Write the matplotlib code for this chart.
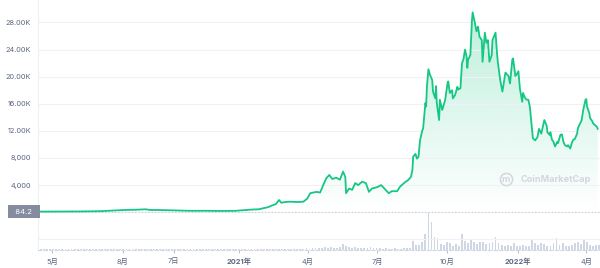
import numpy as np
import pandas as pd
import matplotlib
matplotlib.use("Agg")
import matplotlib.pyplot as plt
import matplotlib.dates as mdates

plt.rcParams["font.family"] = ["Inter", "Noto Sans CJK SC", "DejaVu Sans"]

# price series
price_dates = [
    "2020-04-12", "2020-05-11", "2020-06-06", "2020-07-03", "2020-07-22", "2020-08-04",
    "2020-08-18", "2020-08-31", "2020-09-06", "2020-09-19", "2020-10-08", "2020-10-29",
    "2020-11-17", "2020-12-07", "2020-12-27", "2021-01-02", "2021-01-13", "2021-01-19",
    "2021-01-26", "2021-02-02", "2021-02-08", "2021-02-13", "2021-02-18", "2021-02-22",
    "2021-02-25", "2021-03-02", "2021-03-08", "2021-03-18", "2021-03-26", "2021-03-31",
    "2021-04-04", "2021-04-08", "2021-04-12", "2021-04-17", "2021-04-21", "2021-04-25",
    "2021-04-29", "2021-05-03", "2021-05-08", "2021-05-13", "2021-05-17", "2021-05-20",
    "2021-05-21", "2021-05-25", "2021-05-29", "2021-06-02", "2021-06-06", "2021-06-11",
    "2021-06-16", "2021-06-20", "2021-06-24", "2021-07-01", "2021-07-06", "2021-07-11",
    "2021-07-16", "2021-07-20", "2021-07-27", "2021-07-31", "2021-08-06", "2021-08-10",
    "2021-08-14", "2021-08-16", "2021-08-17", "2021-08-20", "2021-08-22", "2021-08-24",
    "2021-08-26", "2021-08-29", "2021-08-30", "2021-09-02", "2021-09-03", "2021-09-04",
    "2021-09-06", "2021-09-08", "2021-09-11", "2021-09-12", "2021-09-15", "2021-09-16",
    "2021-09-17", "2021-09-20", "2021-09-21", "2021-09-24", "2021-09-25", "2021-09-28",
    "2021-10-01", "2021-10-02", "2021-10-04", "2021-10-07", "2021-10-08", "2021-10-11",
    "2021-10-14", "2021-10-15", "2021-10-18", "2021-10-20", "2021-10-22", "2021-10-24",
    "2021-10-26", "2021-10-27", "2021-10-28", "2021-10-31", "2021-11-02", "2021-11-03",
    "2021-11-06", "2021-11-08", "2021-11-10", "2021-11-12", "2021-11-15", "2021-11-16",
    "2021-11-19", "2021-11-21", "2021-11-23", "2021-11-25", "2021-11-28", "2021-11-29",
    "2021-12-03", "2021-12-05", "2021-12-06", "2021-12-09", "2021-12-12", "2021-12-16",
    "2021-12-20", "2021-12-22", "2021-12-25", "2021-12-26", "2021-12-29", "2021-12-31",
    "2022-01-02", "2022-01-04", "2022-01-07", "2022-01-08", "2022-01-11", "2022-01-13",
    "2022-01-15", "2022-01-17", "2022-01-20", "2022-01-21", "2022-01-24", "2022-01-27",
    "2022-01-29", "2022-02-01", "2022-02-04", "2022-02-05", "2022-02-08", "2022-02-09",
    "2022-02-12", "2022-02-13", "2022-02-15", "2022-02-17", "2022-02-19", "2022-02-22",
    "2022-02-23", "2022-02-26", "2022-02-28", "2022-03-02", "2022-03-04", "2022-03-07",
    "2022-03-08", "2022-03-11", "2022-03-13", "2022-03-15", "2022-03-17", "2022-03-20",
    "2022-03-21", "2022-03-24", "2022-03-26", "2022-03-28", "2022-03-31", "2022-04-01",
    "2022-04-02", "2022-04-05", "2022-04-06", "2022-04-09", "2022-04-10", "2022-04-13",
    "2022-04-15", "2022-04-16",
]
prices = [
    84.2, 90, 110, 150, 250, 330,
    360, 430, 330, 320, 260, 200,
    210, 180, 200, 260, 350, 400,
    420, 600, 750, 1000, 1200, 1800,
    1400, 1500, 1550, 1500, 1550, 2000,
    2800, 2900, 3000, 2900, 4000, 5000,
    5500, 4900, 5100, 4800, 6000, 5200,
    2800, 3500, 3300, 4300, 4000, 4500,
    4300, 3000, 3500, 3700, 4000, 3400,
    2800, 3100, 3100, 3800, 4400, 4700,
    5200, 6200, 8200, 8600, 7900, 8200,
    10600, 12100, 12300, 16100, 15600, 18500,
    21100, 20300, 19500, 17800, 16800, 18600,
    16100, 13600, 16600, 15100, 15400, 16600,
    19000, 19300, 17600, 18000, 16800, 17300,
    18500, 18100, 18300, 22000, 22600, 24000,
    23000, 21300, 22500, 23200, 28200, 29500,
    27900, 26700, 27400, 25900, 25400, 22200,
    26500, 25000, 25400, 22200, 23200, 25400,
    26500, 23400, 22200, 19600, 17800, 20600,
    20100, 19000, 22500, 22700, 20100, 20400,
    20800, 18200, 16300, 17600, 16800, 16600,
    16600, 15600, 12100, 10900, 10600, 11100,
    12300, 11600, 13100, 13600, 12800, 11800,
    11400, 11800, 10700, 10400, 9700, 10400,
    10200, 11400, 11500, 10400, 9900, 9700,
    9900, 9400, 10200, 10700, 10800, 11600,
    12400, 13100, 13600, 15100, 16600, 16700,
    15600, 14600, 13900, 13400, 13100, 12800,
    12600, 12300,
]

# trading volume, one bar every 4 days from the first price date (relative units)
volume_start = "2020-04-12"
volume = [
    1, 1, 1.2, 1, 0.8, 1, 1, 1.2, 1, 1,
    1, 1.2, 1, 1, 1, 1.2, 1.4, 1.2, 1, 1,
    1.2, 1, 1, 1, 1.2, 1, 1, 1, 1, 1.2,
    1, 1, 1, 1.2, 1, 1, 1, 1, 1.2, 1,
    1, 1, 1, 1, 1.2, 1, 1, 1, 1, 1,
    1, 1.2, 1, 1, 1, 1, 1, 1.2, 1, 1,
    1, 1.2, 1, 1.2, 1.4, 1.2, 1, 1.2, 1.5, 1.2,
    1.5, 1.2, 1.4, 1.5, 1.2, 1.5, 1.4, 1.2, 1.5, 1.5,
    1.2, 1.4, 1.5, 1.2, 1.4, 1.5, 1.2, 1.5, 2, 1.5,
    2, 2.5, 2, 2.5, 3, 2.5, 3, 2, 2.5, 3,
    6.5, 4, 3, 2.5, 3, 2, 2.5, 2, 2.5, 3,
    2, 2.5, 2, 1.5, 2, 1.5, 1.5, 2, 1.5, 1.5,
    2, 2, 2, 9, 5, 5, 8, 16, 38, 28,
    13, 12, 6, 5, 8, 7, 4, 6, 4, 16,
    9, 7, 11, 8, 6, 8, 8, 6, 7, 8,
    13, 7, 5, 4, 5, 4, 7, 4, 4, 5,
    4, 4, 10, 7, 5, 7, 6, 4, 4, 7,
    12, 5, 7, 4, 4, 5, 7, 8, 6, 10,
    8, 5, 4, 5, 5,
]

ytick_values = [4000, 8000, 12000, 16000, 20000, 24000, 28000]
ytick_labels = ["4,000", "8,000", "12.00K", "16.00K", "20.00K", "24.00K", "28.00K"]
xtick_dates = ["2020-05-01", "2020-08-01", "2020-10-07", "2021-01-01", "2021-04-01",
               "2021-07-01", "2021-10-01", "2022-01-01", "2022-04-01"]
xtick_labels = ["5月", "8月", "7日", "2021年", "4月", "7月", "10月", "2022年", "4月"]
bold_labels = ["2021年", "2022年"]

green = "#16c784"
grey_text = "#5b6680"
mark_grey = "#d3d7de"

fig = plt.figure(figsize=(6.0, 2.68), dpi=100)
ax = fig.add_axes([38 / 600, 18 / 268, 562 / 600, 250 / 268])
ax2 = ax.twinx()
ax.set_zorder(ax2.get_zorder() + 1)
ax.patch.set_visible(False)

x = mdates.date2num(pd.to_datetime(price_dates))
y = np.array(prices)

# gradient fill under the line
x0 = mdates.date2num(pd.Timestamp("2020-04-12"))
x1 = mdates.date2num(pd.Timestamp("2022-04-19"))
grad = np.zeros((256, 1, 4))
grad[..., :3] = matplotlib.colors.to_rgb(green)
grad[..., 3] = np.linspace(0.30, 0.0, 256)[:, None]
poly = ax.fill_between(x, y, 0, color="none", lw=0)
im = ax.imshow(grad, extent=[x0, x1, 0, 31300], aspect="auto", origin="upper", zorder=1)
im.set_clip_path(poly.get_paths()[0], transform=ax.transData)

ax.plot(x, y, color=green, lw=1.3, zorder=3)
ax.axhline(prices[0], color="#c3c9d3", lw=0.8, ls=(0, (1, 2)), zorder=2)

ax.set_xlim(x0, x1)
ax.set_ylim(-5580, 31320)

ax.set_yticks([-4000, 0] + ytick_values)
ax.set_yticklabels(["", ""] + ytick_labels)
ax.grid(axis="y", color="#eff2f5", lw=0.8)
ax.tick_params(axis="y", length=0, pad=5, labelsize=5.3, labelcolor=grey_text)

ax.set_xticks(mdates.date2num(pd.to_datetime(xtick_dates)))
ax.set_xticklabels(xtick_labels)
for lab in ax.get_xticklabels():
    if lab.get_text() in bold_labels:
        lab.set_fontweight("bold")
ax.tick_params(axis="x", length=2.5, width=0.6, color="#aab2c0", pad=3,
               labelsize=5.3, labelcolor=grey_text)

for side in ["top", "right"]:
    ax.spines[side].set_visible(False)
    ax2.spines[side].set_visible(False)
ax.spines["left"].set_color("#eceff3")
ax.spines["left"].set_linewidth(0.8)
ax.spines["bottom"].set_color("#cfd6e4")
ax.spines["bottom"].set_linestyle((0, (3, 2)))
ax.spines["bottom"].set_linewidth(0.8)
ax2.spines["left"].set_visible(False)
ax2.spines["bottom"].set_visible(False)

# volume bars
vol_dates = pd.date_range(volume_start, periods=len(volume), freq="4D")
ax2.bar(mdates.date2num(vol_dates), volume, width=2.4, color="#cfd6e4", lw=0)
ax2.set_ylim(0, 250)
ax2.set_yticks([])

# current-price tag on the left
ax.annotate("  84.2  ", xy=(0, prices[0]), xycoords=("axes fraction", "data"),
            xytext=(-1, 0), textcoords="offset points", ha="right", va="center",
            fontsize=5.5, color="white",
            bbox=dict(boxstyle="square,pad=0.45", fc="#858c9f", ec="none"))

# watermark
fig.text(521 / 600, 1 - 179 / 268, "CoinMarketCap", fontsize=6.6, fontweight="bold",
         color=mark_grey, va="center", ha="left")
fig.text(506 / 600, 1 - 179 / 268, "m", fontsize=6.5, fontweight="bold",
         color=mark_grey, va="center", ha="center")
ax.plot([506 / 600], [1 - 179 / 268], marker="o", ms=8.8, mfc="none", mec=mark_grey,
        mew=1.1, transform=fig.transFigure, clip_on=False)

fig.savefig("out.png", dpi=100)
